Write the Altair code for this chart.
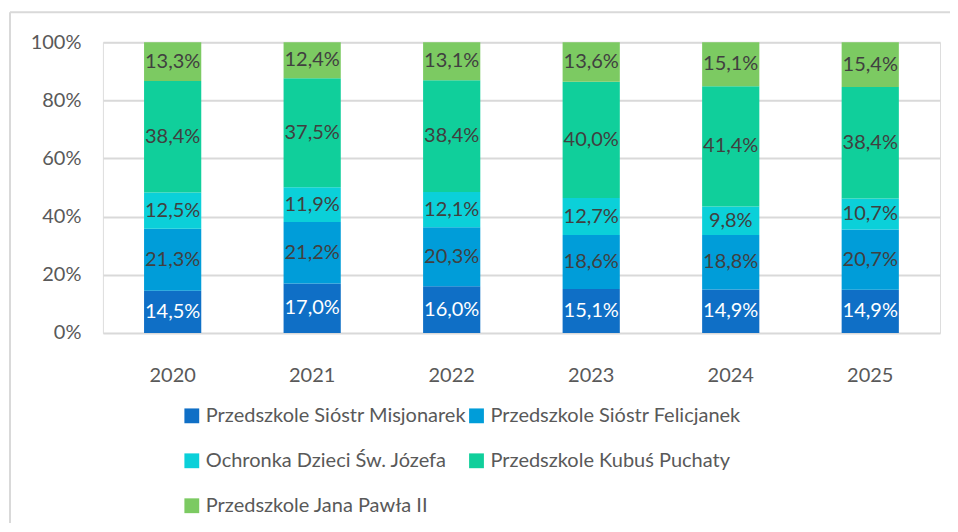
import altair as alt
import pandas as pd

years = ["2020", "2021", "2022", "2023", "2024", "2025"]
series = [
    "Przedszkole Sióstr Misjonarek",
    "Przedszkole Sióstr Felicjanek",
    "Ochronka Dzieci Św. Józefa",
    "Przedszkole Kubuś Puchaty",
    "Przedszkole Jana Pawła II",
]
misjonarek = [14.5, 17.0, 16.0, 15.1, 14.9, 14.9]
felicjanek = [21.3, 21.2, 20.3, 18.6, 18.8, 20.7]
ochronka = [12.5, 11.9, 12.1, 12.7, 9.8, 10.7]
kubus = [38.4, 37.5, 38.4, 40.0, 41.4, 38.4]
jp2 = [13.3, 12.4, 13.1, 13.6, 15.1, 15.4]
colors = ["#0F6FC6", "#009DD9", "#0BD0D9", "#10CF9B", "#7CCA62"]
label_colors = ["#FFFFFF", "#404040", "#404040", "#404040", "#404040"]

values = [misjonarek, felicjanek, ochronka, kubus, jp2]
rows = []
for si, (name, vals) in enumerate(zip(series, values)):
    for yi, y in enumerate(years):
        rows.append({"year": y, "series": name, "order": si, "value": vals[yi],
                     "label": f"{vals[yi]:.1f}%".replace(".", ","),
                     "lcolor": label_colors[si]})
df = pd.DataFrame(rows)

# stacked positions normalized to 100%
df["total"] = df.groupby("year")["value"].transform("sum")
df = df.sort_values(["year", "order"])
df["cum"] = df.groupby("year")["value"].cumsum()
df["y1"] = df["cum"] / df["total"]
df["y0"] = (df["cum"] - df["value"]) / df["total"]
df["ym"] = (df["y0"] + df["y1"]) / 2

FONT = "Lato"
W, H = 838, 291

xenc = alt.X("year:N", sort=years, title=None,
             scale=alt.Scale(paddingInner=0.59, paddingOuter=0.295),
             axis=alt.Axis(labelAngle=0, labelPadding=33, ticks=False, domain=False,
                           labelFont=FONT, labelFontSize=20, labelColor="#595959"))

bars = alt.Chart(df).mark_bar().encode(
    x=xenc,
    y=alt.Y("y0:Q", scale=alt.Scale(domain=[0, 1]), title=None,
            axis=alt.Axis(format=".0%", values=[0, 0.2, 0.4, 0.6, 0.8, 1.0],
                          ticks=False, domain=False, labelPadding=22,
                          labelFont=FONT, labelFontSize=20, labelColor="#595959",
                          gridColor="#D9D9D9", gridWidth=2)),
    y2="y1:Q",
    color=alt.Color("series:N", sort=series,
                    scale=alt.Scale(domain=series, range=colors),
                    legend=alt.Legend(title=None, orient="none", legendX=79, legendY=364,
                                      direction="horizontal", columns=2,
                                      symbolType="square", symbolSize=220,
                                      symbolStrokeWidth=0, labelFont=FONT,
                                      labelFontSize=20, labelColor="#595959",
                                      rowPadding=25, columnPadding=0, labelLimit=400,
                                      gridAlign="none")),
    order=alt.Order("order:Q"),
)

labels = alt.Chart(df).mark_text(font=FONT, fontSize=20).encode(
    x=alt.X("year:N", sort=years),
    y=alt.Y("ym:Q"),
    text="label:N",
    color=alt.Color("lcolor:N", scale=None),
)

frame = alt.Chart(pd.DataFrame({"k": [0]})).mark_rule(color="#D9D9D9", strokeWidth=2).encode(
    x=alt.value(-93), x2=alt.value(W + 30), y=alt.value(-30), y2=alt.value(-30))
frame_l = alt.Chart(pd.DataFrame({"k": [0]})).mark_rule(color="#D9D9D9", strokeWidth=2).encode(
    x=alt.value(-93), y=alt.value(-30), y2=alt.value(H + 200))

chart = alt.layer(frame, frame_l, bars, labels).properties(
    width=W, height=H,
    autosize=alt.AutoSizeParams(type="none"),
    padding={"left": 95, "top": 34, "right": 10, "bottom": 190},
).configure_view(stroke=None).configure(background="white")

chart.save("out.html", embed_options={"renderer": "svg", "actions": False})
